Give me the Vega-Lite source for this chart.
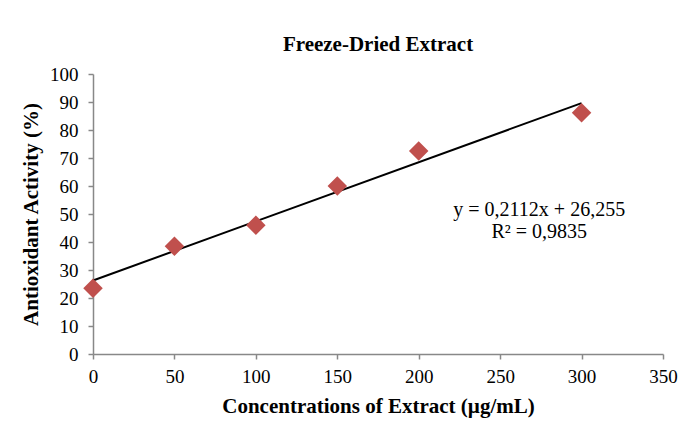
{
  "$schema": "https://vega.github.io/schema/vega-lite/v6.json",
  "width": 570,
  "height": 280,
  "autosize": {"type": "none"},
  "padding": {"left": 93, "top": 74, "right": 33, "bottom": 67},
  "background": "white",
  "config": {
    "font": "Liberation Serif",
    "view": {"stroke": null},
    "axis": {
      "grid": false,
      "domainColor": "#888888",
      "domainWidth": 1.5,
      "tickColor": "#888888",
      "tickWidth": 1.5,
      "tickSize": 5,
      "labelFont": "Liberation Serif",
      "labelFontSize": 19,
      "labelColor": "black",
      "labelOverlap": false,
      "labelFlush": false,
      "titleFont": "Liberation Serif",
      "titleFontSize": 21,
      "titleFontWeight": "bold",
      "titleColor": "black"
    }
  },
  "title": {
    "text": "Freeze-Dried Extract",
    "font": "Liberation Serif",
    "fontSize": 21,
    "fontWeight": "bold",
    "color": "black",
    "offset": 10
  },
  "datasets": {
    "points": [
      {"conc": 0, "activity": 23.5},
      {"conc": 50, "activity": 38.5},
      {"conc": 100, "activity": 46},
      {"conc": 150, "activity": 60},
      {"conc": 200, "activity": 72.5},
      {"conc": 300, "activity": 86.2}
    ],
    "trend": [
      {"conc": 0, "activity": 26.255},
      {"conc": 300, "activity": 89.615}
    ],
    "labels": [
      {"conc": 274, "activity": 51.5, "label": "y = 0,2112x + 26,255"},
      {"conc": 274, "activity": 43.5, "label": "R² = 0,9835"}
    ]
  },
  "encoding": {
    "x": {
      "field": "conc", "type": "quantitative",
      "scale": {"domain": [0, 350], "nice": false},
      "axis": {"values": [0, 50, 100, 150, 200, 250, 300, 350], "title": "Concentrations of Extract (µg/mL)", "titlePadding": 9, "labelPadding": 8}
    },
    "y": {
      "field": "activity", "type": "quantitative",
      "scale": {"domain": [0, 100], "nice": false},
      "axis": {"values": [0, 10, 20, 30, 40, 50, 60, 70, 80, 90, 100], "title": "Antioxidant Activity (%)", "titlePadding": 8, "labelPadding": 10}
    }
  },
  "layer": [
    {
      "data": {"name": "trend"},
      "mark": {"type": "line", "color": "black", "strokeWidth": 2}
    },
    {
      "data": {"name": "points"},
      "mark": {"type": "point", "shape": "diamond", "filled": true, "color": "#C0504D", "opacity": 1, "size": 380}
    },
    {
      "data": {"name": "labels"},
      "mark": {"type": "text", "font": "Liberation Serif", "fontSize": 20, "color": "black", "align": "center", "baseline": "middle"},
      "encoding": {
        "text": {"field": "label"}
      }
    }
  ]
}
